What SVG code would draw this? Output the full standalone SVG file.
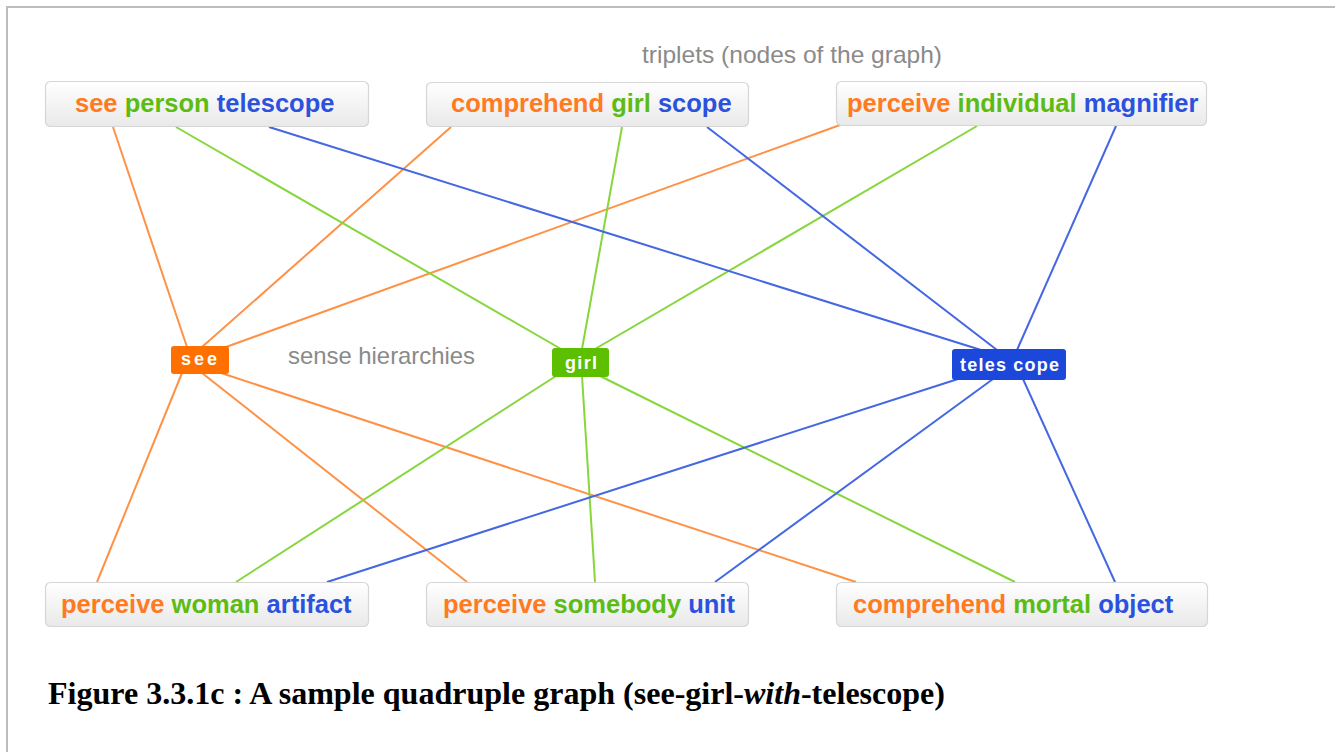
<svg xmlns="http://www.w3.org/2000/svg" width="1335" height="752" viewBox="0 0 1335 752">
<style>
.box{fill:url(#bg);stroke:#d6d6d6;stroke-width:1.2}
.tt{font-family:"Liberation Sans",Arial,sans-serif;font-weight:bold;font-size:25.5px}
.o{fill:#ff7a21}.g{fill:#5cbc14}.b{fill:#2c52dd}
.lo{stroke:#ff9147}.lg{stroke:#86d63c}.lb{stroke:#4467e2}
#edges line{stroke-width:2;fill:none}
.hn{font-family:"Liberation Sans",Arial,sans-serif;font-weight:bold;font-size:18px;fill:#fff}
.lbl{font-family:"Liberation Sans",Arial,sans-serif;font-size:24px;fill:#8a8a8a}
</style>
<defs>
<linearGradient id="bg" x1="0" y1="0" x2="0" y2="1">
<stop offset="0" stop-color="#ffffff"/>
<stop offset="1" stop-color="#e9e9e9"/>
</linearGradient>
</defs>
<rect width="1335" height="752" fill="#fff"/>
<path d="M7 752V7H1335" fill="none" stroke="#bdbdbd" stroke-width="2"/>
<text class="lbl" x="642" y="63" textLength="300" lengthAdjust="spacingAndGlyphs">triplets (nodes of the graph)</text>
<text class="lbl" x="288" y="364" textLength="187" lengthAdjust="spacingAndGlyphs">sense hierarchies</text>
<g id="edges">
<line class="lo" x1="113" y1="127" x2="187" y2="347"/>
<line class="lo" x1="451" y1="127" x2="202" y2="347"/>
<line class="lo" x1="840" y1="125" x2="226" y2="347"/>
<line class="lo" x1="182" y1="373" x2="97" y2="582"/>
<line class="lo" x1="202" y1="373" x2="467" y2="582"/>
<line class="lo" x1="221" y1="373" x2="856" y2="582"/>
<line class="lg" x1="176" y1="127" x2="561" y2="349"/>
<line class="lg" x1="622" y1="127" x2="582" y2="349"/>
<line class="lg" x1="977" y1="126" x2="595" y2="349"/>
<line class="lg" x1="556" y1="376" x2="236" y2="582"/>
<line class="lg" x1="582" y1="376" x2="595" y2="582"/>
<line class="lg" x1="600" y1="376" x2="1015" y2="582"/>
<line class="lb" x1="269" y1="127" x2="981" y2="350"/>
<line class="lb" x1="707" y1="127" x2="997" y2="350"/>
<line class="lb" x1="1116" y1="126" x2="1017" y2="350"/>
<line class="lb" x1="958" y1="379" x2="327" y2="582"/>
<line class="lb" x1="993" y1="379" x2="715" y2="582"/>
<line class="lb" x1="1023" y1="379" x2="1115" y2="582"/>
</g>
<g id="t1">
<rect class="box" x="45.5" y="81.5" width="323" height="45" rx="5"/>
<text class="tt" x="75" y="112"><tspan class="o">see</tspan> <tspan class="g">person</tspan> <tspan class="b">telescope</tspan></text>
</g>
<g id="t2">
<rect class="box" x="426.5" y="82.5" width="322" height="44" rx="5"/>
<text class="tt" x="451" y="112"><tspan class="o">comprehend</tspan> <tspan class="g">girl</tspan> <tspan class="b">scope</tspan></text>
</g>
<g id="t3">
<rect class="box" x="836.5" y="81.5" width="370" height="44" rx="5"/>
<text class="tt" x="847" y="112"><tspan class="o">perceive</tspan> <tspan class="g">individual</tspan> <tspan class="b">magnifier</tspan></text>
</g>
<g id="t4">
<rect class="box" x="45.5" y="582.5" width="323" height="44" rx="5"/>
<text class="tt" x="61" y="613"><tspan class="o">perceive</tspan> <tspan class="g">woman</tspan> <tspan class="b">artifact</tspan></text>
</g>
<g id="t5">
<rect class="box" x="426.5" y="582.5" width="322" height="44" rx="5"/>
<text class="tt" x="443" y="613"><tspan class="o">perceive</tspan> <tspan class="g">somebody</tspan> <tspan class="b">unit</tspan></text>
</g>
<g id="t6">
<rect class="box" x="836.5" y="582.5" width="371" height="44" rx="5"/>
<text class="tt" x="853" y="613"><tspan class="o">comprehend</tspan> <tspan class="g">mortal</tspan> <tspan class="b">object</tspan></text>
</g>
<g id="see">
<rect x="171" y="346" width="58" height="28" rx="3" fill="#ff7000"/>
<text class="hn" x="181" y="365" textLength="36" lengthAdjust="spacing">see</text>
</g>
<g id="girl">
<rect x="552" y="348" width="57" height="29" rx="3" fill="#5cbf00"/>
<text class="hn" x="565" y="369" textLength="32" lengthAdjust="spacing">girl</text>
</g>
<g id="telescope">
<rect x="952" y="349" width="114" height="31" rx="3" fill="#1c47db"/>
<text class="hn" x="960" y="371" textLength="99" lengthAdjust="spacing">teles cope</text>
</g>
<text x="48" y="704" font-family="'Liberation Serif','Times New Roman',serif" font-weight="bold" font-size="32" fill="#000" textLength="897" lengthAdjust="spacingAndGlyphs">Figure 3.3.1c : A sample quadruple graph (see-girl-<tspan font-style="italic">with</tspan>-telescope)</text>
</svg>
